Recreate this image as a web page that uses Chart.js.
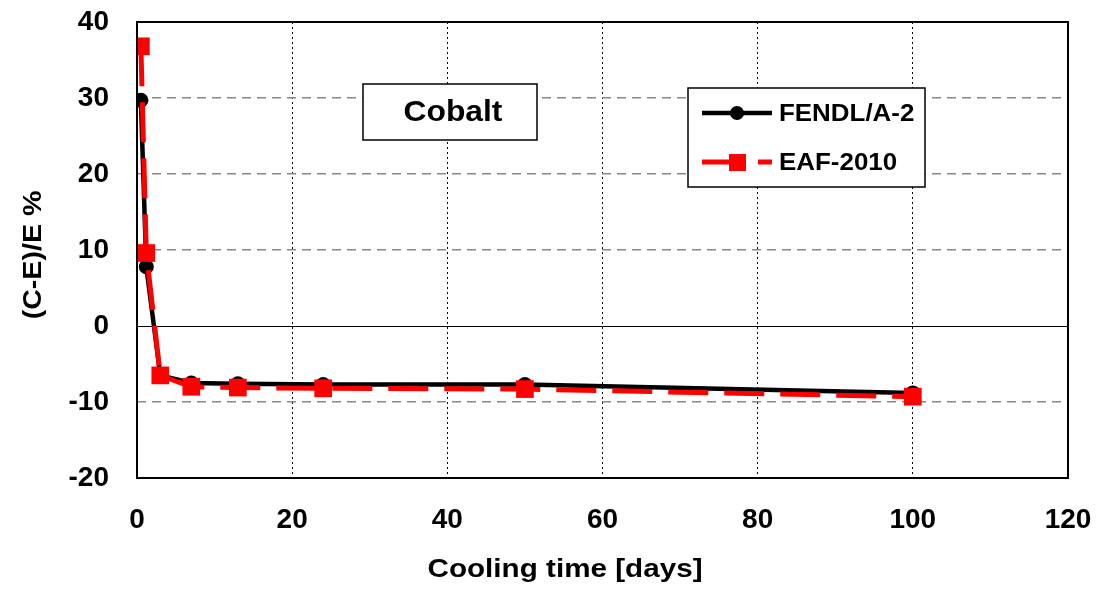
<!DOCTYPE html>
<html>
<head>
<meta charset="utf-8">
<script src="https://cdn.jsdelivr.net/npm/chart.js@4.4.0/dist/chart.umd.min.js"></script>
<style>
  html, body { margin: 0; padding: 0; background: #fff; }
  #wrap { width: 1100px; height: 589px; }
</style>
</head>
<body>
<div id="wrap"><canvas id="chart" width="1100" height="589"></canvas></div>
<script>
// values
const coolingDays = [0.5, 1.2, 3, 7, 13, 24, 50, 100];
const fendlValues = [29.7, 7.8, -6.5, -7.5, -7.6, -7.7, -7.7, -8.8];
const eafValues   = [36.8, 9.6, -6.5, -8.0, -8.1, -8.2, -8.3, -9.3];
const seriesNames = ['FENDL/A-2', 'EAF-2010'];
const xTicks = [0, 20, 40, 60, 80, 100, 120];
const yTicks = [-20, -10, 0, 10, 20, 30, 40];

const FONT = '"Liberation Sans", Arial, sans-serif';

function toPoints(xs, ys) {
    return xs.map((x, i) => ({ x: x, y: ys[i] }));
}

// text a little wider than the font, as in the original picture
function wideText(ctx, text, x, y, sx) {
    ctx.save();
    ctx.translate(x, y);
    ctx.scale(sx, 1);
    ctx.fillText(text, 0, 0);
    ctx.restore();
}

// frame, titles, label box and legend
const decorations = {
    id: 'decorations',
    afterDraw(chart) {
        const ctx = chart.ctx;
        const a = chart.chartArea;
        ctx.save();

        // frame round the plot
        ctx.strokeStyle = '#000';
        ctx.lineWidth = 2;
        ctx.strokeRect(a.left, a.top, a.right - a.left, a.bottom - a.top);

        // axis titles
        ctx.fillStyle = '#000';
        ctx.font = 'bold 26px ' + FONT;
        ctx.textAlign = 'center';
        ctx.textBaseline = 'middle';
        wideText(ctx, 'Cooling time [days]', 565, 570, 1.14);
        ctx.save();
        ctx.translate(34, 255);
        ctx.rotate(-Math.PI / 2);
        wideText(ctx, '(C-E)/E %', 0, 0, 1.1);
        ctx.restore();

        // "Cobalt" box
        ctx.fillStyle = '#fff';
        ctx.fillRect(363, 84, 174, 56);
        ctx.lineWidth = 1.5;
        ctx.strokeRect(363, 84, 174, 56);
        ctx.fillStyle = '#000';
        ctx.font = 'bold 30px ' + FONT;
        wideText(ctx, 'Cobalt', 453, 113, 1.06);

        // legend
        ctx.fillStyle = '#fff';
        ctx.fillRect(688, 88, 237, 99);
        ctx.strokeRect(688, 88, 237, 99);
        const rows = [113, 162];
        chart.data.datasets.forEach((ds, i) => {
            const y = rows[i];
            ctx.strokeStyle = ds.borderColor;
            ctx.lineWidth = ds.borderWidth;
            ctx.beginPath();
            if (ds.borderDash) {
                ctx.moveTo(702, y); ctx.lineTo(735, y);
                ctx.moveTo(758, y); ctx.lineTo(772, y);
            } else {
                ctx.moveTo(702, y); ctx.lineTo(772, y);
            }
            ctx.stroke();
            ctx.fillStyle = ds.pointBackgroundColor;
            if (ds.pointStyle === 'rect') {
                ctx.fillRect(729, y - 8, 17, 17);
            } else {
                ctx.beginPath();
                ctx.arc(737, y, 7, 0, Math.PI * 2);
                ctx.fill();
            }
            ctx.fillStyle = '#000';
            ctx.font = 'bold 24px ' + FONT;
            ctx.textAlign = 'left';
            wideText(ctx, ds.label, 779, y + 1, 1.08);
        });

        ctx.restore();
    }
};

new Chart(document.getElementById('chart'), {
    type: 'line',
    data: {
        datasets: [{
            label: seriesNames[0],
            data: toPoints(coolingDays, fendlValues),
            borderColor: '#000',
            borderWidth: 4.5,
            pointStyle: 'circle',
            pointRadius: 7.5,
            pointBackgroundColor: '#000',
            pointBorderWidth: 0,
            order: 1,
            tension: 0
        }, {
            label: seriesNames[1],
            data: toPoints(coolingDays, eafValues),
            borderColor: '#ff0000',
            borderWidth: 5,
            borderDash: [40, 16],
            pointStyle: 'rect',
            pointRadius: 12.5,
            pointBackgroundColor: '#ff0000',
            pointBorderWidth: 0,
            order: 0,
            tension: 0
        }]
    },
    options: {
        responsive: false,
        animation: false,
        layout: { padding: { top: 22, right: 32, left: 0, bottom: 0 } },
        plugins: {
            legend: { display: false },
            tooltip: { enabled: false }
        },
        scales: {
            x: {
                type: 'linear',
                min: 0,
                max: 120,
                afterBuildTicks(scale) { scale.ticks = xTicks.map(v => ({ value: v })); },
                afterFit(scale) {
                    scale.height = 111;
                    scale.paddingLeft = 0;
                    scale.paddingRight = 0;
                },
                grid: {
                    drawTicks: false,
                    color: ctx => (ctx.tick && (ctx.tick.value === 0 || ctx.tick.value === 120)) ? 'rgba(0,0,0,0)' : '#000',
                    lineWidth: 1
                },
                border: { display: false, dash: [2, 3] },
                ticks: {
                    padding: 25,
                    color: '#000',
                    font: { family: FONT, size: 28, weight: 'bold' }
                }
            },
            y: {
                type: 'linear',
                min: -20,
                max: 40,
                afterBuildTicks(scale) { scale.ticks = yTicks.map(v => ({ value: v })); },
                afterFit(scale) {
                    scale.width = 137;
                    scale.paddingTop = 0;
                    scale.paddingBottom = 0;
                },
                grid: {
                    drawTicks: false,
                    color: ctx => {
                        const v = ctx.tick ? ctx.tick.value : null;
                        if (v === -20 || v === 40) return 'rgba(0,0,0,0)';
                        return v === 0 ? '#000' : '#888';
                    },
                    lineWidth: ctx => (ctx.tick && ctx.tick.value === 0) ? 1 : 1.5
                },
                border: {
                    display: false,
                    dash: ctx => (ctx.tick && ctx.tick.value === 0) ? [] : [9, 6]
                },
                ticks: {
                    padding: 28,
                    color: '#000',
                    font: { family: FONT, size: 28, weight: 'bold' }
                }
            }
        }
    },
    plugins: [decorations]
});
</script>
</body>
</html>
